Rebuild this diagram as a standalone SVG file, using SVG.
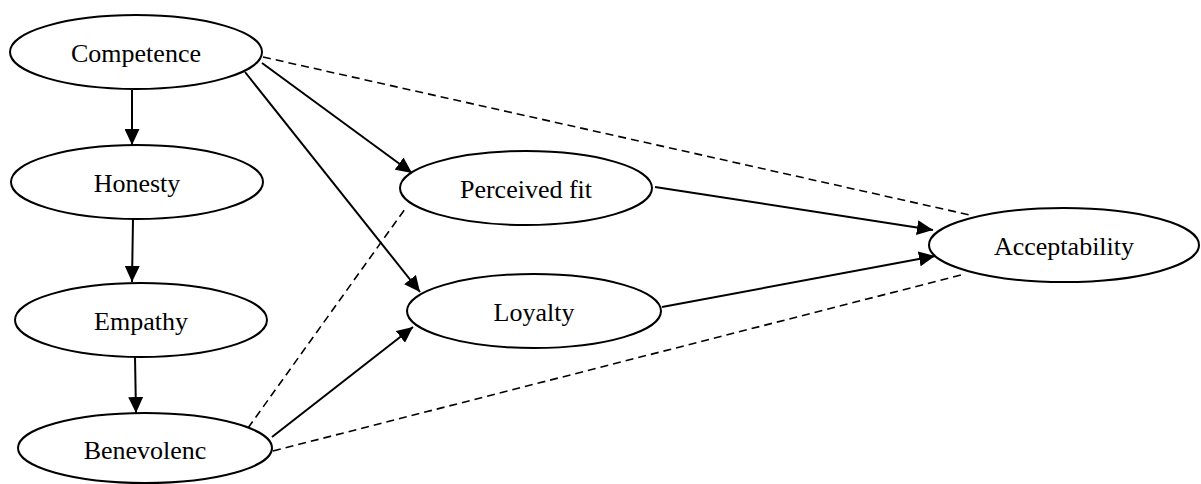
<svg xmlns="http://www.w3.org/2000/svg" width="1201" height="484" viewBox="0 0 1201 484">
<style>
.node ellipse{fill:#fff;stroke:#000;stroke-width:2}
.node text{font-family:"Liberation Serif","Times New Roman",serif;font-size:26px;fill:#000;text-anchor:middle}
.solid{stroke:#000;stroke-width:2;fill:none;marker-end:url(#arr)}
.dash{stroke:#000;stroke-width:1.6;fill:none;stroke-dasharray:8 5}
</style>
<defs>
<marker id="arr" markerUnits="userSpaceOnUse" markerWidth="17" markerHeight="15" refX="16" refY="7.5" orient="auto">
<path d="M0,0 L16,7.5 L0,15 z" fill="#000"/>
</marker>
</defs>
<g id="connectors">
<line class="solid" x1="132" y1="90" x2="132" y2="145"/>
<line class="solid" x1="133" y1="219" x2="132" y2="282"/>
<line class="solid" x1="135" y1="357" x2="136" y2="413"/>
<line class="solid" x1="262" y1="63" x2="412" y2="173"/>
<line class="solid" x1="245" y1="72" x2="420" y2="292"/>
<line class="dash" x1="263" y1="57" x2="970" y2="215"/>
<line class="solid" x1="272" y1="437" x2="413" y2="327"/>
<line class="dash" x1="248" y1="428" x2="405" y2="209"/>
<line class="dash" x1="273" y1="451" x2="965" y2="274"/>
<line class="solid" x1="655" y1="187" x2="933" y2="230"/>
<line class="solid" x1="662" y1="307" x2="935" y2="256"/>
</g>
<g id="competence" class="node"><ellipse cx="136" cy="52" rx="126" ry="37"/><text x="136" y="62">Competence</text></g>
<g id="honesty" class="node"><ellipse cx="137" cy="182" rx="126" ry="37"/><text x="137" y="192">Honesty</text></g>
<g id="empathy" class="node"><ellipse cx="141" cy="320" rx="126" ry="37"/><text x="141" y="330">Empathy</text></g>
<g id="benevolenc" class="node"><ellipse cx="145" cy="448" rx="127" ry="35"/><text x="145" y="459">Benevolenc</text></g>
<g id="perceived-fit" class="node"><ellipse cx="526" cy="188" rx="126" ry="37"/><text x="526" y="198">Perceived fit</text></g>
<g id="loyalty" class="node"><ellipse cx="534" cy="311" rx="127" ry="37"/><text x="534" y="321">Loyalty</text></g>
<g id="acceptability" class="node"><ellipse cx="1064" cy="245" rx="135" ry="37"/><text x="1064" y="255">Acceptability</text></g>
</svg>
